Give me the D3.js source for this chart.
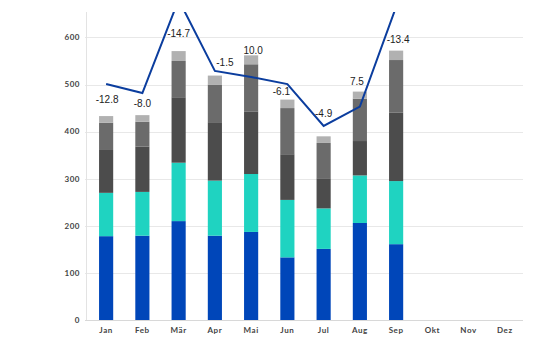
<!DOCTYPE html>
<html>
<head>
<meta charset="utf-8">
<script src="https://cdn.jsdelivr.net/npm/d3@7"></script>
<style>
  body { margin: 0; background: #fff; }
  svg { display: block; }
</style>
</head>
<body>
<div class="chart"></div>
<script>
// months and stacked series values
const months = ["Jan", "Feb", "Mär", "Apr", "Mai", "Jun", "Jul", "Aug", "Sep", "Okt", "Nov", "Dez"];
const seriesA = [178, 179, 210, 179, 187, 133, 151, 206, 161];
const seriesB = [92, 93, 124, 117, 123, 122, 86, 101, 134];
const seriesC = [91, 96, 139, 124, 133, 97, 64, 73, 145];
const seriesD = [58, 53, 77, 80, 100, 98, 75, 90, 112];
const seriesE = [14, 14, 21, 19, 19, 18, 14, 15, 20];
const lineValues = [501, 482, 680, 529, 516, 501, 412, 453, 665];
const changeLabels = ["-12.8", "-8.0", "-14.7", "-1.5", "10.0", "-6.1", "-4.9", "7.5", "-13.4"];
const yTicks = [0, 100, 200, 300, 400, 500, 600];

// layout only: nudges for the change labels so they clear the line
const labelNudge = [[1, -17], [0, -12], [0, -18], [10, -13], [2, -5], [-6, -8], [0, -23], [-3, -10], [2, -11]];

(function () {
	const width = 540, height = 338;
	const margin = {top: 12, right: 17, bottom: 18, left: 88};
	const innerW = width - margin.left - margin.right;
	const innerH = height - margin.top - margin.bottom;

	const svg = d3.select(".chart").append("svg")
		.attr("width", width)
		.attr("height", height);

	const chart = svg.append("g")
		.attr("transform", "translate(" + margin.left + "," + margin.top + ")");

	const x = d3.scaleBand().domain(months).range([0, innerW]).paddingInner(0.61).paddingOuter(0.305);
	const y = d3.scaleLinear().domain([0, 654]).range([innerH, 0]);

	const keys = ["a", "b", "c", "d", "e"];
	const colors = ["#0046b9", "#1fd3c1", "#4c4c4c", "#6b6b6b", "#b1b1b1"];
	const rows = seriesA.map(function (v, i) {
		return {month: months[i], a: v, b: seriesB[i], c: seriesC[i], d: seriesD[i], e: seriesE[i]};
	});
	const stacked = d3.stack().keys(keys)(rows);

	// grid
	chart.append("g").selectAll("line")
		.data(yTicks)
		.enter().append("line")
		.attr("x1", -3)
		.attr("x2", innerW)
		.attr("y1", function (d) { return Math.round(y(d)) + 0.5; })
		.attr("y2", function (d) { return Math.round(y(d)) + 0.5; })
		.attr("stroke", function (d) { return d === 0 ? "#d8d8d8" : "#e8e8e8"; })
		.attr("stroke-width", 1);

	chart.append("line")
		.attr("x1", -1.5).attr("x2", -1.5)
		.attr("y1", 0).attr("y2", innerH)
		.attr("stroke", "#e3e3e3");

	// y labels
	chart.append("g").selectAll("text")
		.data(yTicks)
		.enter().append("text")
		.attr("x", -8)
		.attr("y", function (d) { return y(d); })
		.attr("dy", "0.35em")
		.attr("text-anchor", "end")
		.attr("font-family", "Lato, sans-serif")
		.attr("font-weight", "bold")
		.attr("font-size", 8)
		.attr("letter-spacing", 0.5)
		.attr("fill", "#444")
		.text(function (d) { return d; });

	// x labels
	chart.append("g").selectAll("text")
		.data(months)
		.enter().append("text")
		.attr("x", function (d) { return x(d) + x.bandwidth() / 2; })
		.attr("y", innerH + 13)
		.attr("text-anchor", "middle")
		.attr("font-family", "Lato, sans-serif")
		.attr("font-weight", "bold")
		.attr("font-size", 8)
		.attr("letter-spacing", 0.6)
		.attr("fill", "#444")
		.text(function (d) { return d; });

	// bars
	chart.append("g").selectAll("g")
		.data(stacked)
		.enter().append("g")
		.attr("fill", function (d, i) { return colors[i]; })
		.selectAll("rect")
		.data(function (d) { return d; })
		.enter().append("rect")
		.attr("x", function (d) { return x(d.data.month); })
		.attr("y", function (d) { return y(d[1]); })
		.attr("height", function (d) { return y(d[0]) - y(d[1]); })
		.attr("width", x.bandwidth());

	// line, clipped to the plot area
	svg.append("clipPath").attr("id", "plotClip")
		.append("rect")
		.attr("x", -5).attr("y", 0)
		.attr("width", innerW + 10).attr("height", innerH);

	const line = d3.line()
		.x(function (d, i) { return x(months[i]) + x.bandwidth() / 2; })
		.y(function (d) { return y(d); });

	chart.append("path")
		.datum(lineValues)
		.attr("clip-path", "url(#plotClip)")
		.attr("fill", "none")
		.attr("stroke", "#0b3d9e")
		.attr("stroke-width", 2)
		.attr("stroke-linejoin", "miter")
		.attr("d", line);

	// change labels above the bars
	chart.append("g").selectAll("text")
		.data(changeLabels)
		.enter().append("text")
		.attr("x", function (d, i) { return x(months[i]) + x.bandwidth() / 2 + labelNudge[i][0]; })
		.attr("y", function (d, i) {
			const top = y(seriesA[i] + seriesB[i] + seriesC[i] + seriesD[i] + seriesE[i]);
			return top + labelNudge[i][1];
		})
		.attr("dy", "0.35em")
		.attr("text-anchor", "middle")
		.attr("font-family", "Liberation Sans, Arial, sans-serif")
		.attr("font-size", 10)
		.attr("fill", "#222")
		.text(function (d) { return d; });
}());
</script>
</body>
</html>
